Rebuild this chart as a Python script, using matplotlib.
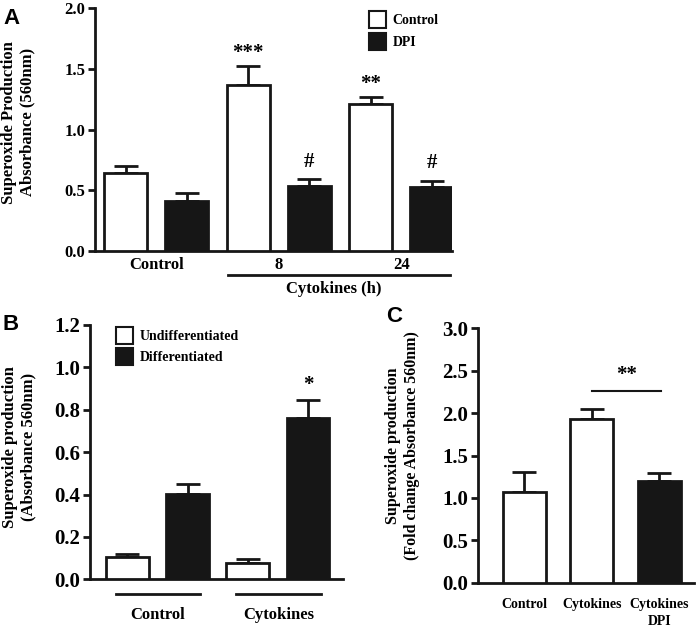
import matplotlib
matplotlib.use("Agg")
import matplotlib.pyplot as plt
from matplotlib.patches import Patch
import numpy as np

plt.rcParams['font.family'] = ['Liberation Serif', 'DejaVu Serif']
plt.rcParams['font.weight'] = 'bold'
plt.rcParams['axes.labelweight'] = 'bold'

# ---------------- data ----------------
# Panel A
a_groups = ["Control", "8", "24"]
a_control = [0.64, 1.37, 1.21]
a_control_err = [0.06, 0.15, 0.055]
a_dpi = [0.41, 0.535, 0.53]
a_dpi_err = [0.065, 0.055, 0.05]
a_control_marks = ["", "***", "**"]
a_dpi_marks = ["", "#", "#"]

# Panel B
b_groups = ["Control", "Cytokines"]
b_undiff = [0.107, 0.078]
b_undiff_err = [0.013, 0.016]
b_diff = [0.401, 0.76]
b_diff_err = [0.049, 0.087]
b_diff_marks = ["", "*"]

# Panel C
c_labels = ["Control", "Cytokines", "Cytokines\nDPI"]
c_values = [1.07, 1.93, 1.20]
c_err = [0.24, 0.12, 0.09]
c_filled = [False, False, True]

DARK = "#161616"
LW = 2.0

fig = plt.figure(figsize=(6.97, 6.28), dpi=100)
W, H = 697, 628


def ax_at(l, r, top, bottom):
    return fig.add_axes([l / W, 1 - bottom / H, (r - l) / W, (bottom - top) / H])


def style(ax, ylim, step, tick_size):
    ax.set_ylim(*ylim)
    ax.set_yticks(np.arange(ylim[0], ylim[1] + 1e-9, step))
    for s in ["top", "right"]:
        ax.spines[s].set_visible(False)
    for s in ["left", "bottom"]:
        ax.spines[s].set_linewidth(LW)
        ax.spines[s].set_color(DARK)
    ax.tick_params(axis='y', direction='out', length=5, width=LW, color=DARK,
                   labelsize=tick_size, pad=2)
    ax.tick_params(axis='x', length=0)


def bars(ax, x, vals, errs, filled, width):
    fc = DARK if filled else "white"
    ax.bar(x, vals, width=width, color=fc, edgecolor=DARK, linewidth=LW, zorder=3)
    ax.errorbar(x, vals, yerr=[np.zeros(len(vals)), errs], fmt='none',
                ecolor=DARK, elinewidth=LW, capsize=8.5, capthick=LW, zorder=2)


def legend(ax, labels, anchor, spacing):
    ax.legend(handles=[Patch(facecolor="white", edgecolor=DARK, linewidth=1.5, label=labels[0]),
                       Patch(facecolor=DARK, edgecolor=DARK, linewidth=1.5, label=labels[1])],
              loc='upper left', bbox_to_anchor=anchor, frameon=False, borderpad=0,
              borderaxespad=0, handlelength=1.25, handleheight=1.5,
              labelspacing=spacing, handletextpad=0.45,
              prop={'size': 10, 'weight': 'bold'})


# ---------------- Panel A ----------------
axA = ax_at(95, 452, 8, 251)
xw = np.arange(len(a_groups)) * 2
xb = xw + 1
bars(axA, xw, a_control, a_control_err, False, 0.7)
bars(axA, xb, a_dpi, a_dpi_err, True, 0.7)
axA.set_xlim(-0.5, 5.33)
style(axA, (0, 2.0), 0.5, 12)
axA.set_yticklabels([f"{v:.1f}" for v in np.arange(0, 2.01, 0.5)])
axA.set_xticks(xw + 0.5)
axA.set_xticklabels(a_groups, fontsize=12)
axA.tick_params(axis='x', pad=4)
for x, v, e, m in zip(xw, a_control, a_control_err, a_control_marks):
    if m:
        axA.text(x, v + e + 0.03, m, ha='center', va='bottom', fontsize=15)
for x, v, e, m in zip(xb, a_dpi, a_dpi_err, a_dpi_marks):
    if m:
        axA.text(x, v + e + 0.06, m, ha='center', va='bottom', fontsize=15)
axA.plot([1.67, 5.3], [-0.2, -0.2], color=DARK, lw=LW, clip_on=False)
axA.text(3.4, -0.31, "Cytokines (h)", ha='center', va='center', fontsize=12)
axA.set_ylabel("Superoxide Production\nAbsorbance (560nm)", fontsize=12)
axA.yaxis.set_label_coords(-0.168, 0.53)
legend(axA, ["Control", "DPI"], ((369 - 95) / 357, 1 - 3 / 243), 0.35)

# ---------------- Panel B ----------------
axB = ax_at(90, 343, 325, 579.3)
xu = np.arange(len(b_groups)) * 2
xd = xu + 1
bars(axB, xu, b_undiff, b_undiff_err, False, 0.71)
bars(axB, xd, b_diff, b_diff_err, True, 0.71)
axB.set_xlim(-0.62, 3.58)
style(axB, (0, 1.2), 0.2, 15)
axB.set_yticklabels([f"{v:.1f}" for v in np.arange(0, 1.21, 0.2)])
axB.set_xticks([])
for x, v, e, m in zip(xd, b_diff, b_diff_err, b_diff_marks):
    if m:
        axB.text(x, v + e + 0.025, m, ha='center', va='bottom', fontsize=15)
for g, lab in zip(xu, b_groups):
    axB.plot([g - 0.19, g + 1.21], [-0.069, -0.069], color=DARK, lw=LW, clip_on=False)
    axB.text(g + 0.51, -0.168, lab, ha='center', va='center', fontsize=12)
axB.set_ylabel("Superoxide production\n(Absorbance 560nm)", fontsize=12)
axB.yaxis.set_label_coords(-0.21, 0.52)
legend(axB, ["Undifferentiated", "Differentiated"], ((116 - 90) / 253, 1 - 2 / 254), 0.3)

# ---------------- Panel C ----------------
axC = ax_at(478, 694, 328.3, 582.7)
xc = np.arange(len(c_labels))
for x, v, e, f in zip(xc, c_values, c_err, c_filled):
    bars(axC, [x], [v], [e], f, 0.636)
axC.set_xlim(-0.68, 2.51)
style(axC, (0, 3.0), 0.5, 15)
axC.set_yticklabels([f"{v:.1f}" for v in np.arange(0, 3.01, 0.5)])
axC.set_xticks(xc)
axC.set_xticklabels(c_labels, fontsize=10, linespacing=1.4)
axC.tick_params(axis='x', pad=11)
axC.plot([1.0, 2.02], [2.26, 2.26], color=DARK, lw=1.5)
axC.text(1.51, 2.33, "**", ha='center', va='bottom', fontsize=15)
axC.set_ylabel("Superoxide production\n(Fold change Absorbance 560nm)", fontsize=11.5)
axC.yaxis.set_label_coords(-0.27, 0.54)

# ---------------- Panel letters ----------------
for txt, x, y in [("A", 3, 8), ("B", 3, 314), ("C", 386, 306)]:
    fig.text(x / W, 1 - y / H, txt, ha='left', va='top', fontsize=16,
             fontweight='bold', family=['Liberation Sans', 'DejaVu Sans'])

fig.savefig("out.png", dpi=100, facecolor="white")
